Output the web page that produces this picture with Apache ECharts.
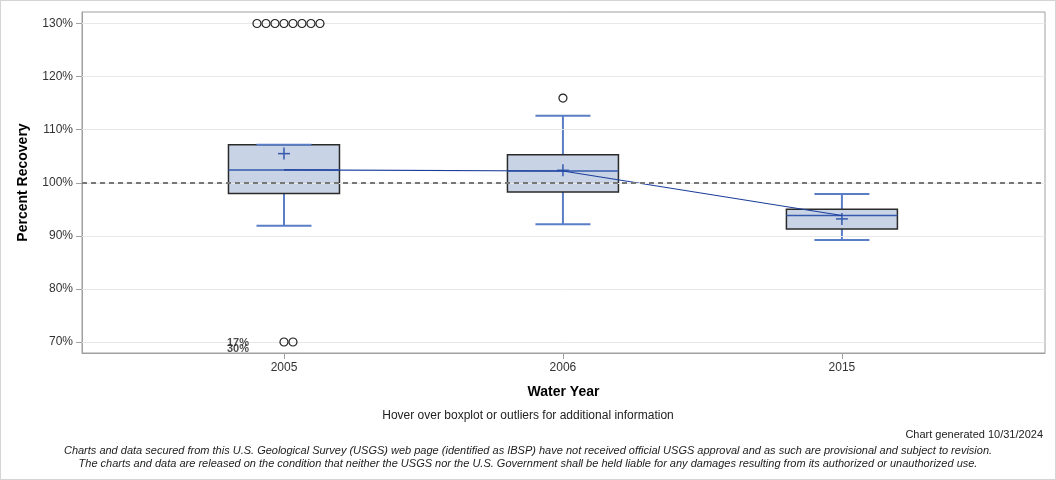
<!DOCTYPE html>
<html>
<head>
<meta charset="utf-8">
<script src="https://cdn.jsdelivr.net/npm/echarts@6/dist/echarts.min.js"></script>
<style>
html,body{margin:0;padding:0;background:#fff;}
#chart{width:1056px;height:480px;box-sizing:border-box;border:1px solid #d4d4d4;}
</style>
</head>
<body>
<div id="chart"></div>
<script>
// ---- data ----
const categories = ['2005', '2006', '2015'];
const lowerWhisker = [91.88, 92.2, 89.24];
const q1 = [97.97, 98.27, 91.31];
const median = [102.41, 102.22, 93.83];
const q3 = [107.18, 105.3, 95.02];
const upperWhisker = [107.18, 112.64, 97.89];
const mean = [105.49, 102.35, 93.19];
// outliers: [category index, value]
const outliers = [
  [0, 130], [0, 130], [0, 130], [0, 130], [0, 130], [0, 130], [0, 130], [0, 130],
  [0, 70], [0, 70],
  [1, 115.95]
];
// off-scale outlier values, shown as text at the axis floor
const offScaleLabels = [[0, 70, '17%'], [0, 70, '30%']];
const yTicks = [70, 80, 90, 100, 110, 120, 130];
const xTicks = [0, 1, 2];
const referenceValue = 100;

// jitter pattern for stacked outliers (center, +1, -1, +2, -2 ...)
const groupCount = {};
const outlierData = outliers.map(function (o) {
  const key = o[0] + '_' + o[1];
  const k = groupCount[key] || 0;
  groupCount[key] = k + 1;
  const step = Math.ceil(k / 2) * (k % 2 === 1 ? 1 : -1);
  return { value: o, symbolOffset: [step * 9, 0] };
});

const boxData = categories.map(function (c, i) {
  return [i, lowerWhisker[i], q1[i], median[i], q3[i], upperWhisker[i], mean[i]];
});

const chart = echarts.init(document.getElementById('chart'), null, { renderer: 'canvas' });
const FONT = '"Liberation Sans", Arial, sans-serif';

chart.setOption({
  animation: false,
  backgroundColor: '#fff',
  grid: { left: 81, right: 10, top: 11, bottom: 126, show: true, borderColor: '#a0a0a0', borderWidth: 1, containLabel: false },
  xAxis: {
    type: 'value',
    min: -0.724,
    max: 2.728,
    name: 'Water Year',
    nameLocation: 'middle',
    nameGap: 32,
    nameTextStyle: { fontFamily: FONT, fontSize: 14, fontWeight: 'bold', color: '#000' },
    axisLine: { show: true, onZero: false, lineStyle: { color: '#a0a0a0' } },
    axisTick: { show: true, customValues: xTicks, length: 6, lineStyle: { color: '#a0a0a0' } },
    axisLabel: {
      customValues: xTicks,
      fontFamily: FONT, fontSize: 12, color: '#333', margin: 9,
      formatter: function (v) { return categories[Math.round(v)]; }
    },
    splitLine: { show: false }
  },
  yAxis: {
    type: 'value',
    min: 67.93,
    max: 132.17,
    name: 'Percent Recovery',
    nameLocation: 'middle',
    nameGap: 52,
    nameTextStyle: { fontFamily: FONT, fontSize: 14, fontWeight: 'bold', color: '#000' },
    axisLine: { show: true, onZero: false, lineStyle: { color: '#a0a0a0' } },
    axisTick: { show: true, customValues: yTicks, length: 6, lineStyle: { color: '#a0a0a0' } },
    axisLabel: {
      customValues: yTicks,
      fontFamily: FONT, fontSize: 12, color: '#333', margin: 9,
      formatter: function (v) { return v + '%'; }
    },
    splitLine: { show: false }
  },
  series: [
    {
      // gridlines + reference line
      type: 'line',
      data: [],
      silent: true,
      markLine: {
        symbol: 'none',
        silent: true,
        label: { show: false },
        data: yTicks.map(function (t) {
          return { yAxis: t, lineStyle: { color: '#e8e8e8', width: 1, type: 'solid' } };
        }).concat([{ yAxis: referenceValue, lineStyle: { color: '#777', width: 2, type: [5, 4] } }])
      },
      z: 1
    },
    {
      type: 'custom',
      data: boxData,
      z: 3,
      renderItem: function (params, api) {
        const x = api.value(0);
        const pLW = api.coord([x, api.value(1)]);
        const pQ1 = api.coord([x, api.value(2)]);
        const pMed = api.coord([x, api.value(3)]);
        const pQ3 = api.coord([x, api.value(4)]);
        const pUW = api.coord([x, api.value(5)]);
        const pMean = api.coord([x, api.value(6)]);
        const cx = pQ1[0];
        const hw = 55.5, cw = 27.5, pm = 6;
        const wStyle = { stroke: '#5a7ec6', lineWidth: 2 };
        return {
          type: 'group',
          children: [
            { type: 'line', shape: { x1: cx, y1: pQ1[1], x2: cx, y2: pLW[1] }, style: wStyle },
            { type: 'line', shape: { x1: cx, y1: pQ3[1], x2: cx, y2: pUW[1] }, style: wStyle },
            { type: 'rect', shape: { x: cx - hw, y: pQ3[1], width: hw * 2, height: pQ1[1] - pQ3[1] },
              style: { fill: '#c8d3e5', stroke: '#2a2a2a', lineWidth: 1.5 } },
            { type: 'line', shape: { x1: cx - cw, y1: pLW[1], x2: cx + cw, y2: pLW[1] }, style: wStyle },
            { type: 'line', shape: { x1: cx - cw, y1: pUW[1], x2: cx + cw, y2: pUW[1] }, style: wStyle },
            { type: 'line', shape: { x1: cx - hw, y1: pMed[1], x2: cx + hw, y2: pMed[1] }, style: { stroke: '#3559ad', lineWidth: 1.5 } },
            { type: 'line', shape: { x1: cx - pm, y1: pMean[1], x2: cx + pm, y2: pMean[1] }, style: { stroke: '#3559ad', lineWidth: 1.5 } },
            { type: 'line', shape: { x1: cx, y1: pMean[1] - pm, x2: cx, y2: pMean[1] + pm }, style: { stroke: '#3559ad', lineWidth: 1.5 } }
          ]
        };
      }
    },
    {
      // median connecting line
      type: 'line',
      data: categories.map(function (c, i) { return [i, median[i]]; }),
      symbol: 'none',
      lineStyle: { color: '#1c3f9c', width: 1.2 },
      z: 4
    },
    {
      type: 'scatter',
      data: outlierData,
      symbol: 'circle',
      symbolSize: 8,
      itemStyle: { color: 'rgba(255,255,255,0)', borderColor: '#222', borderWidth: 1.2, opacity: 1 },
      z: 5
    },
    {
      type: 'scatter',
      data: offScaleLabels.map(function (d, i) {
        return { value: [d[0], d[1]], name: d[2], label: { offset: [-30, i * 6 + 1] } };
      }),
      symbolSize: 0,
      label: {
        show: true, position: 'left', formatter: '{b}',
        fontFamily: FONT, fontSize: 11, fontWeight: 'bold', color: '#222'
      },
      z: 6
    }
  ],
  graphic: [
    { type: 'text', left: 'center', top: 409, style: { text: 'Hover over boxplot or outliers for additional information', font: '12px ' + FONT, fill: '#222' } },
    { type: 'text', right: 12, top: 428, style: { text: 'Chart generated 10/31/2024', font: '11px ' + FONT, fill: '#222' } },
    { type: 'text', left: 'center', top: 444, style: { text: 'Charts and data secured from this U.S. Geological Survey (USGS) web page (identified as IBSP) have not received official USGS approval and as such are provisional and subject to revision.', font: 'italic 11px ' + FONT, fill: '#222' } },
    { type: 'text', left: 'center', top: 457, style: { text: 'The charts and data are released on the condition that neither the USGS nor the U.S. Government shall be held liable for any damages resulting from its authorized or unauthorized use.', font: 'italic 11px ' + FONT, fill: '#222' } }
  ]
});
</script>
</body>
</html>
